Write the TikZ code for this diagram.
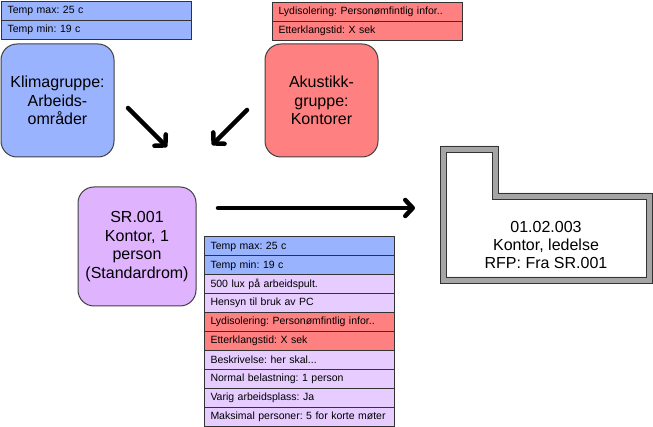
\documentclass[tikz,border=0pt]{standalone}
\usepackage{fontspec}
\setmainfont{Liberation Sans}
\usetikzlibrary{arrows.meta}
\definecolor{cblue}{RGB}{153,179,255}
\definecolor{cred}{RGB}{255,128,128}
\definecolor{cviolet}{RGB}{224,179,255}
\definecolor{clav}{RGB}{230,204,255}
\definecolor{cwall}{RGB}{165,165,165}
\begin{document}
\frenchspacing
\begin{tikzpicture}[x=1pt,y=-1pt,
  grp/.style={draw=black!75, line width=1pt, rounded corners=16pt, minimum width=113pt, minimum height=113pt, align=center, font=\fontsize{16}{18.5}\selectfont, inner sep=0pt},
  row/.style={draw=black!80, line width=1pt, anchor=north west, minimum width=190pt, minimum height=18.9pt, text width=184pt, inner xsep=3pt, inner ysep=0pt, align=left, font=\fontsize{10.5}{12}\selectfont, execute at begin node={\hspace*{3pt}}},
  bigarrow/.style={line width=4.5pt, line cap=round, -{Straight Barb[length=7.5pt, width=16pt, round]}},
  wall/.style={draw=black!80, line width=0.8pt}
]
\useasboundingbox (0,0) rectangle (653,427);

% top-left blue table
\node[row, fill=cblue] (k1) at (1,1) {Temp max: 25 c};
\node[row, fill=cblue] (k2) at (1,20) {Temp min: 19 c};
% top red table
\node[row, fill=cred] (a1) at (272,2) {Lydisolering: Personømfintlig infor..};
\node[row, fill=cred] (a2) at (272,21) {Etterklangstid: X sek};

% group boxes
\node[grp, fill=cblue] (klima) at (57.5,100.5) {Klimagruppe:\\Arbeids-\\områder};
\node[grp, fill=cred] (akust) at (321.5,100.5) {Akustikk-\\gruppe:\\Kontorer};
\node[grp, fill=cviolet, minimum width=118pt, minimum height=119pt] (sr) at (137,246.5) {SR.001\\Kontor, 1\\person\\(Standardrom)};

% bottom table
\node[row, fill=cblue] (r1) at (204,236.5) {Temp max: 25 c};
\node[row, fill=cblue] (r2) at (204,255.4) {Temp min: 19 c};
\node[row, fill=clav] (r3) at (204,274.3) {500 lux på arbeidspult.};
\node[row, fill=clav] (r4) at (204,293.2) {Hensyn til bruk av PC};
\node[row, fill=cred] (r5) at (204,312.1) {Lydisolering: Personømfintlig infor..};
\node[row, fill=cred] (r6) at (204,331.0) {Etterklangstid: X sek};
\node[row, fill=clav] (r7) at (204,349.9) {Beskrivelse: her skal...};
\node[row, fill=clav] (r8) at (204,368.8) {Normal belastning: 1 person};
\node[row, fill=clav] (r9) at (204,387.7) {Varig arbeidsplass: Ja};
\node[row, fill=clav] (r10) at (204,406.6) {Maksimal personer: 5 for korte møter};

% room
\fill[cwall, even odd rule] (440,146) -- (498,146) -- (498,193) -- (652,193) -- (652,283) -- (440,283) -- cycle
  (446,152) -- (492,152) -- (492,199) -- (646,199) -- (646,277) -- (446,277) -- cycle;
\draw[wall] (440,146) -- (498,146) -- (498,193) -- (652,193) -- (652,283) -- (440,283) -- cycle;
\draw[wall] (446,152) -- (492,152) -- (492,199) -- (646,199) -- (646,277) -- (446,277) -- cycle;
\node[align=center, font=\fontsize{16}{18.3}\selectfont] (room) at (546,245) {01.02.003\\Kontor, ledelse\\RFP: Fra SR.001};

% arrows
\coordinate (s1) at (128,108);
\coordinate (e1) at (167,147);
\coordinate (s2) at (247,110);
\coordinate (e2) at (212,145);
\coordinate (s3) at (218,208);
\coordinate (e3) at (415,208);
\draw[bigarrow] (s1) -- (e1);
\draw[bigarrow] (s2) -- (e2);
\draw[bigarrow] (s3) -- (e3);
\end{tikzpicture}
\end{document}
